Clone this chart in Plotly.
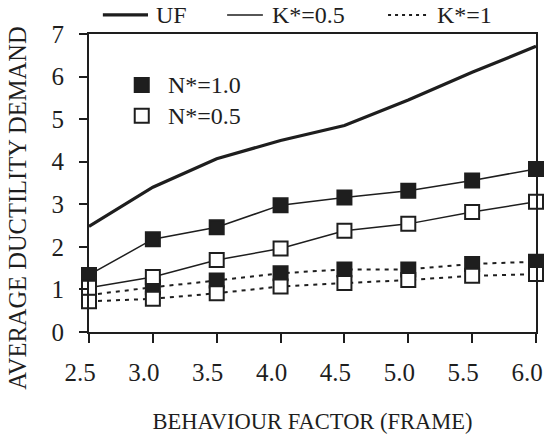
import plotly.graph_objects as go

behaviour_factor = [2.5, 3.0, 3.5, 4.0, 4.5, 5.0, 5.5, 6.0]
uf = [2.48, 3.40, 4.07, 4.50, 4.85, 5.45, 6.10, 6.71]
k05_n10 = [1.34, 2.18, 2.46, 2.98, 3.16, 3.32, 3.56, 3.83]
k05_n05 = [1.04, 1.29, 1.69, 1.96, 2.38, 2.54, 2.82, 3.06]
k1_n10 = [0.87, 1.05, 1.21, 1.38, 1.47, 1.47, 1.60, 1.65]
k1_n05 = [0.72, 0.78, 0.91, 1.07, 1.15, 1.22, 1.32, 1.36]
x_ticks = [2.5, 3.0, 3.5, 4.0, 4.5, 5.0, 5.5, 6.0]
y_ticks = [0, 1, 2, 3, 4, 5, 6, 7]

INK = "#1e1e1e"
FONT = "Liberation Serif, Times New Roman, Times, serif"

fig = go.Figure()

def line_trace(y, width, dash, fill=None):
    kw = dict(x=behaviour_factor, y=y, line=dict(color=INK, width=width, dash=dash),
              showlegend=False, cliponaxis=False, hoverinfo="skip")
    if fill is None:
        kw["mode"] = "lines"
    else:
        kw["mode"] = "lines+markers"
        kw["marker"] = dict(symbol="square", size=14, color=fill,
                            line=dict(color=INK, width=2))
    return go.Scatter(**kw)

fig.add_trace(line_trace(uf, 3.2, "solid"))
fig.add_trace(line_trace(k1_n10, 2, "4px,5px", INK))
fig.add_trace(line_trace(k1_n05, 2, "4px,5px", "white"))
fig.add_trace(line_trace(k05_n10, 1.5, "solid", INK))
fig.add_trace(line_trace(k05_n05, 1.5, "solid", "white"))

shapes = []
annotations = []
# top legend
ly = 1.064
legend_items = [(0.031, 0.132, 3.2, "solid", "UF", 0.145),
                (0.309, 0.389, 1.5, "solid", "K*=0.5", 0.405),
                (0.669, 0.758, 2, "3px,4px", "K*=1", 0.774)]
for x0, x1, w, d, txt, tx in legend_items:
    shapes.append(dict(type="line", xref="paper", yref="paper", x0=x0, x1=x1, y0=ly, y1=ly,
                       line=dict(color=INK, width=w, dash=d)))
    annotations.append(dict(xref="paper", yref="paper", x=tx, y=ly, text=txt, showarrow=False,
                            xanchor="left", yanchor="middle", font=dict(family=FONT, size=24, color=INK)))
# inner legend
sx, hw, hh = 0.118, 0.0157, 0.0235
for yc, fill, txt in [(0.829, INK, "N*=1.0"), (0.726, "white", "N*=0.5")]:
    shapes.append(dict(type="rect", xref="paper", yref="paper", x0=sx - hw, x1=sx + hw,
                       y0=yc - hh, y1=yc + hh, fillcolor=fill, line=dict(color=INK, width=2)))
    annotations.append(dict(xref="paper", yref="paper", x=0.172, y=yc, text=txt, showarrow=False,
                            xanchor="left", yanchor="middle", font=dict(family=FONT, size=24, color=INK)))
# y title
annotations.append(dict(xref="paper", yref="paper", x=-0.16, y=0.415, text="AVERAGE DUCTILITY DEMAND",
                        textangle=-90, showarrow=False, xanchor="center", yanchor="middle",
                        font=dict(family=FONT, size=24.5, color=INK)))

fig.update_layout(
    width=550, height=434,
    margin=dict(l=89, r=14, t=34, b=102),
    paper_bgcolor="white", plot_bgcolor="white",
    font=dict(family=FONT, size=25, color=INK),
    shapes=shapes, annotations=annotations,
    xaxis=dict(range=[2.5, 6.0], tickvals=x_ticks, ticktext=[f"{v:.1f}" for v in x_ticks],
               showgrid=False, zeroline=False, showline=True, linecolor=INK, linewidth=2,
               mirror=True, ticks="outside", ticklen=9, tickwidth=1.5, tickcolor=INK,
               ticklabelstandoff=8, ticklabelshift=-9, ticklabeloverflow="allow", automargin=False,
               title=dict(text="BEHAVIOUR FACTOR (FRAME)", font=dict(family=FONT, size=22.5), standoff=30)),
    yaxis=dict(range=[0, 7], tickvals=y_ticks, showgrid=False, zeroline=False, showline=True,
               linecolor=INK, linewidth=2, mirror=True, ticks="outside", ticklen=8, tickwidth=1.5,
               tickcolor=INK, ticklabelstandoff=10, automargin=False),
)

fig.write_html("out.html", config={"displayModeBar": False},
               post_script="document.body.style.margin='0';")
